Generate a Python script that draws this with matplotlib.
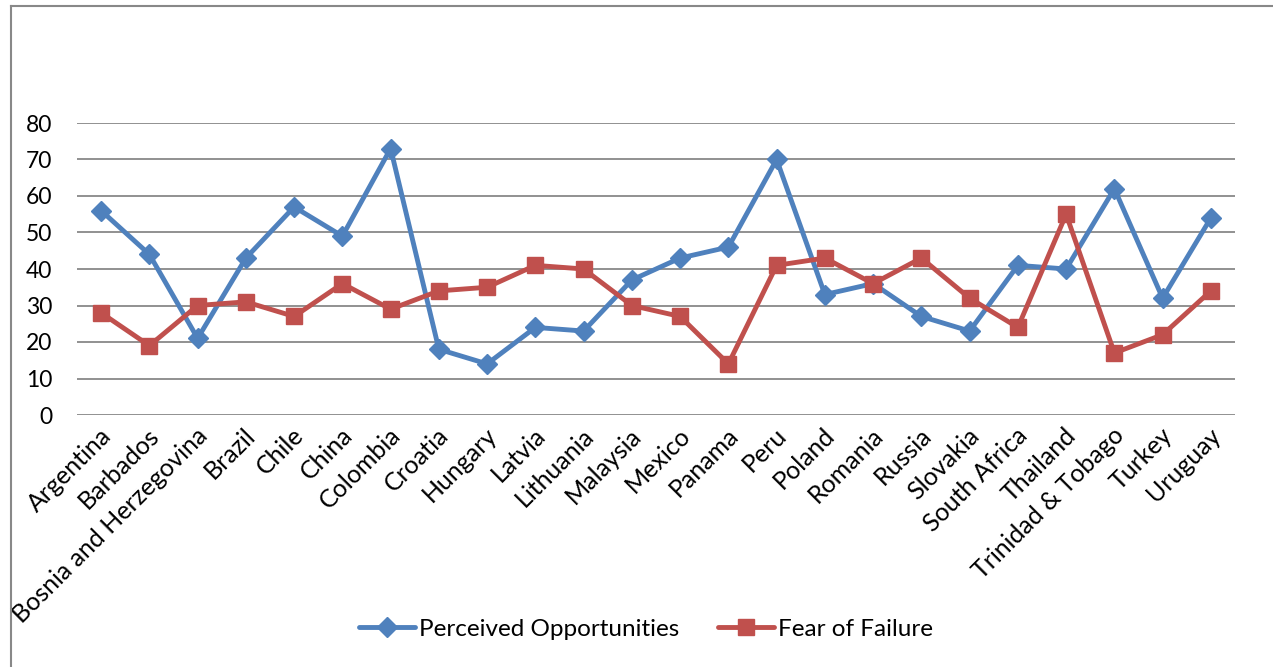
import matplotlib
matplotlib.use("Agg")
import matplotlib.pyplot as plt
from matplotlib.lines import Line2D
from matplotlib.transforms import ScaledTranslation

countries = ["Argentina", "Barbados", "Bosnia and Herzegovina", "Brazil", "Chile", "China",
             "Colombia", "Croatia", "Hungary", "Latvia", "Lithuania", "Malaysia", "Mexico",
             "Panama", "Peru", "Poland", "Romania", "Russia", "Slovakia", "South Africa",
             "Thailand", "Trinidad & Tobago", "Turkey", "Uruguay"]
perceived = [56, 44, 21, 43, 57, 49, 73, 18, 14, 24, 23, 37, 43, 46, 70, 33, 36, 27, 23, 41,
             40, 62, 32, 54]
fear = [28, 19, 30, 31, 27, 36, 29, 34, 35, 41, 40, 30, 27, 14, 41, 43, 36, 43, 32, 24,
        55, 17, 22, 34]
yticks = [0, 10, 20, 30, 40, 50, 60, 70, 80]

plt.rcParams['font.family'] = ['Lato', 'DejaVu Sans']

W, H = 1273, 667
fig = plt.figure(figsize=(W / 100, H / 100), dpi=100)
ax = fig.add_axes([77 / W, 1 - 415 / H, (1235 - 77) / W, (415 - 123) / H])

x = list(range(len(countries)))
ax.plot(x, perceived, color="#4F81BD", lw=3.5, marker="D", markersize=10,
        label="Perceived Opportunities", solid_joinstyle="round", solid_capstyle="round")
ax.plot(x, fear, color="#C0504D", lw=3.5, marker="s", markersize=11.5,
        label="Fear of Failure", solid_joinstyle="round", solid_capstyle="round")

ax.set_xlim(-0.5, len(countries) - 0.5)
ax.set_ylim(0, 80)
ax.set_yticks(yticks)
ax.set_yticklabels([str(v) for v in yticks], fontsize=16.5)
ax.yaxis.grid(True, color="#888888", lw=1.3)
ax.set_axisbelow(True)
for s in ax.spines.values():
    s.set_visible(False)
ax.tick_params(axis="y", length=0, pad=18)
ax.tick_params(axis="x", length=0, pad=2)
ax.set_xticks(x)
ax.set_xticklabels(countries, rotation=45, ha="right", va="center",
                   rotation_mode="anchor", fontsize=18)
for lbl in ax.get_xticklabels():
    lbl.set_transform(lbl.get_transform() + ScaledTranslation(0.06, -0.14, fig.dpi_scale_trans))

leg = fig.legend(loc="center", bbox_to_anchor=(646 / W, 1 - 629 / H), ncol=2, frameon=False,
                 fontsize=17.5, handlelength=2.3, columnspacing=1.6, handletextpad=0.15)

# chart border (top and left edges visible)
fig.add_artist(Line2D([11 / W, 11 / W], [0, 1 - 6 / H], color="#888888", lw=1.5,
                      transform=fig.transFigure))
fig.add_artist(Line2D([11 / W, 1], [1 - 6 / H, 1 - 6 / H], color="#888888", lw=1.5,
                      transform=fig.transFigure))

fig.savefig("out.png", dpi=100, facecolor="white")
